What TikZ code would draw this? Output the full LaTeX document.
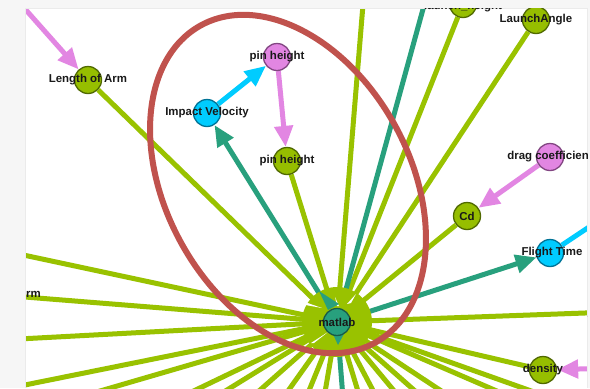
\documentclass[tikz,border=0pt]{standalone}
\usepackage{fontspec}
\setmainfont{Liberation Sans}
\usetikzlibrary{arrows.meta,backgrounds}

\definecolor{edgegreen}{RGB}{153,194,0}
\definecolor{nodegreen}{RGB}{150,190,0}
\definecolor{rimgreen}{RGB}{80,105,0}
\definecolor{edgeteal}{RGB}{40,160,125}
\definecolor{rimteal}{RGB}{25,90,72}
\definecolor{edgecyan}{RGB}{0,204,255}
\definecolor{rimcyan}{RGB}{0,115,150}
\definecolor{edgepink}{RGB}{226,134,226}
\definecolor{rimpink}{RGB}{130,70,130}
\definecolor{ringred}{RGB}{192,82,77}
\definecolor{framegray}{RGB}{246,246,246}

\tikzset{
  vnode/.style={circle, minimum size=27bp, inner sep=0pt, line width=1.3bp},
  gnode/.style={vnode, draw=rimgreen, fill=nodegreen},
  tnode/.style={vnode, draw=rimteal, fill=edgeteal},
  cnode/.style={vnode, draw=rimcyan, fill=edgecyan},
  pnode/.style={vnode, draw=rimpink, fill=edgepink},
  lbl/.style={font=\fontsize{11.5}{13}\selectfont\bfseries, text=black!90, inner sep=0pt},
  gedge/.style={edgegreen, line width=5bp},
  tedge/.style={edgeteal, line width=5bp},
  cedge/.style={edgecyan, line width=5bp},
  pedge/.style={edgepink, line width=5bp},
  head/.style={-{Triangle[length=21bp,width=18bp]}}
}

\begin{document}
\begin{tikzpicture}[x=1bp, y=-1bp]
  \useasboundingbox (0,0) rectangle (590,388);

  % frame of the screenshot
  \fill[framegray] (0,0) rectangle (25,388);
  \fill[framegray] (0,0) rectangle (590,8);
  \fill[framegray] (587,0) rectangle (590,388);
  \draw[black!8, line width=0.6bp] (25,388) -- (25,8) -- (587,8) -- (587,388);

  \begin{scope}
    \clip (25,8) rectangle (587,388);

    % vertices
    \node[gnode, label={[lbl]center:Length of Arm}] (lenarm) at (88,80) {};
    \node[pnode, label={[lbl]center:pin height}] (pinup) at (277,57) {};
    \node[cnode, label={[lbl]center:Impact Velocity}] (impact) at (207,113) {};
    \node[gnode, label={[lbl]center:pin height}] (pindown) at (287,161) {};
    \node[tnode, label={[lbl]center:matlab}] (matlab) at (337,322) {};
    \node[gnode, label={[lbl]center:Cd}] (cd) at (467,216) {};
    \node[cnode, label={[lbl,xshift=2bp]center:Flight Time}] (flight) at (550,253) {};
    \node[pnode, label={[lbl]center:drag coefficient}] (drag) at (550,157) {};
    \node[gnode, label={[lbl]center:density}] (density) at (543,370) {};
    \node[gnode, label={[lbl]center:LaunchAngle}] (launchangle) at (536,20) {};
    \node[gnode, label={[lbl,yshift=-3bp]center:launch\_height}] (launchheight) at (463,4) {};
    \node[lbl, anchor=east] (rmcut) at (41,294) {rm};
    \node[lbl, anchor=west] (acut) at (587.5,315) {a};

    % loose ends off the screen
    \coordinate (pinkin) at (10,-8);
    \coordinate (cyanout) at (625,203);
    \coordinate (densin) at (615,368);
    \coordinate (aend) at (640,311);
    \coordinate (upgreen) at (365,-20);
    \coordinate (upteal) at (431,-20);
    \coordinate (downteal) at (343,398);
    \foreach \n/\x/\y in {wa/0/250, wb/0/295, wc/0/340, wd/0/390,
        sa/76/398, sb/179/398, sc/214/398, sd/251/398, se/283/398, sf/306/398,
        sg/324/398, sh/360/398, si/377/398, sj/400/398, sk/423/398,
        sl/452/398, sm/513/398, sn/551/398}
      \coordinate (\n) at (\x,\y);

    % the red ring
    \draw[ringred, line width=6bp, rotate around={28.8:(288,184)}]
      (288,184) ellipse [x radius=122bp, y radius=181bp];
  \end{scope}

  \begin{pgfonlayer}{background}
    \fill[white] (25,8) rectangle (587,388);
    \clip (25,8) rectangle (587,388);

    % fan of matlab
    \foreach \n in {lenarm, pindown, upgreen, launchheight, launchangle, cd,
        aend, density, wa, wb, wc, wd, sa, sb, sc, sd, se, sf, sg, sh, si, sj,
        sk, sl, sm, sn}
      \draw[gedge] (matlab) -- (\n);
    \draw[tedge] (matlab) -- (upteal);
    \draw[tedge] (matlab) -- (downteal);
    \draw[tedge, head] (matlab) -- (impact);
    \draw[tedge, head] (matlab) -- (flight);

    \draw[cedge, head] (impact) -- (pinup);
    \draw[pedge, head] (pinup) -- (pindown);
    \draw[pedge, head] (pinkin) -- (lenarm);
    \draw[pedge, head] (drag) -- (cd);
    \draw[pedge, head] (densin) -- (density);
    \draw[cedge] (flight) -- (cyanout);

    % heads piled up on matlab
    \fill[edgegreen] (matlab) circle (35bp);
    \fill[white] (299,300) -- (322,308) -- (300,304) -- cycle;
    \fill[white] (311,343) -- (328,332) -- (314,343) -- cycle;
    \fill[white] (347,304) -- (356,294) -- (351,303) -- cycle;
    \fill[white] (335,297) -- (339,306) -- (337,306) -- cycle;
    \fill[edgeteal] (319,291) -- (328,310) -- (339,304) -- cycle;
    \fill[edgeteal] (338,345) -- (332,332) -- (345,332) -- cycle;
  \end{pgfonlayer}
\end{tikzpicture}
\end{document}
